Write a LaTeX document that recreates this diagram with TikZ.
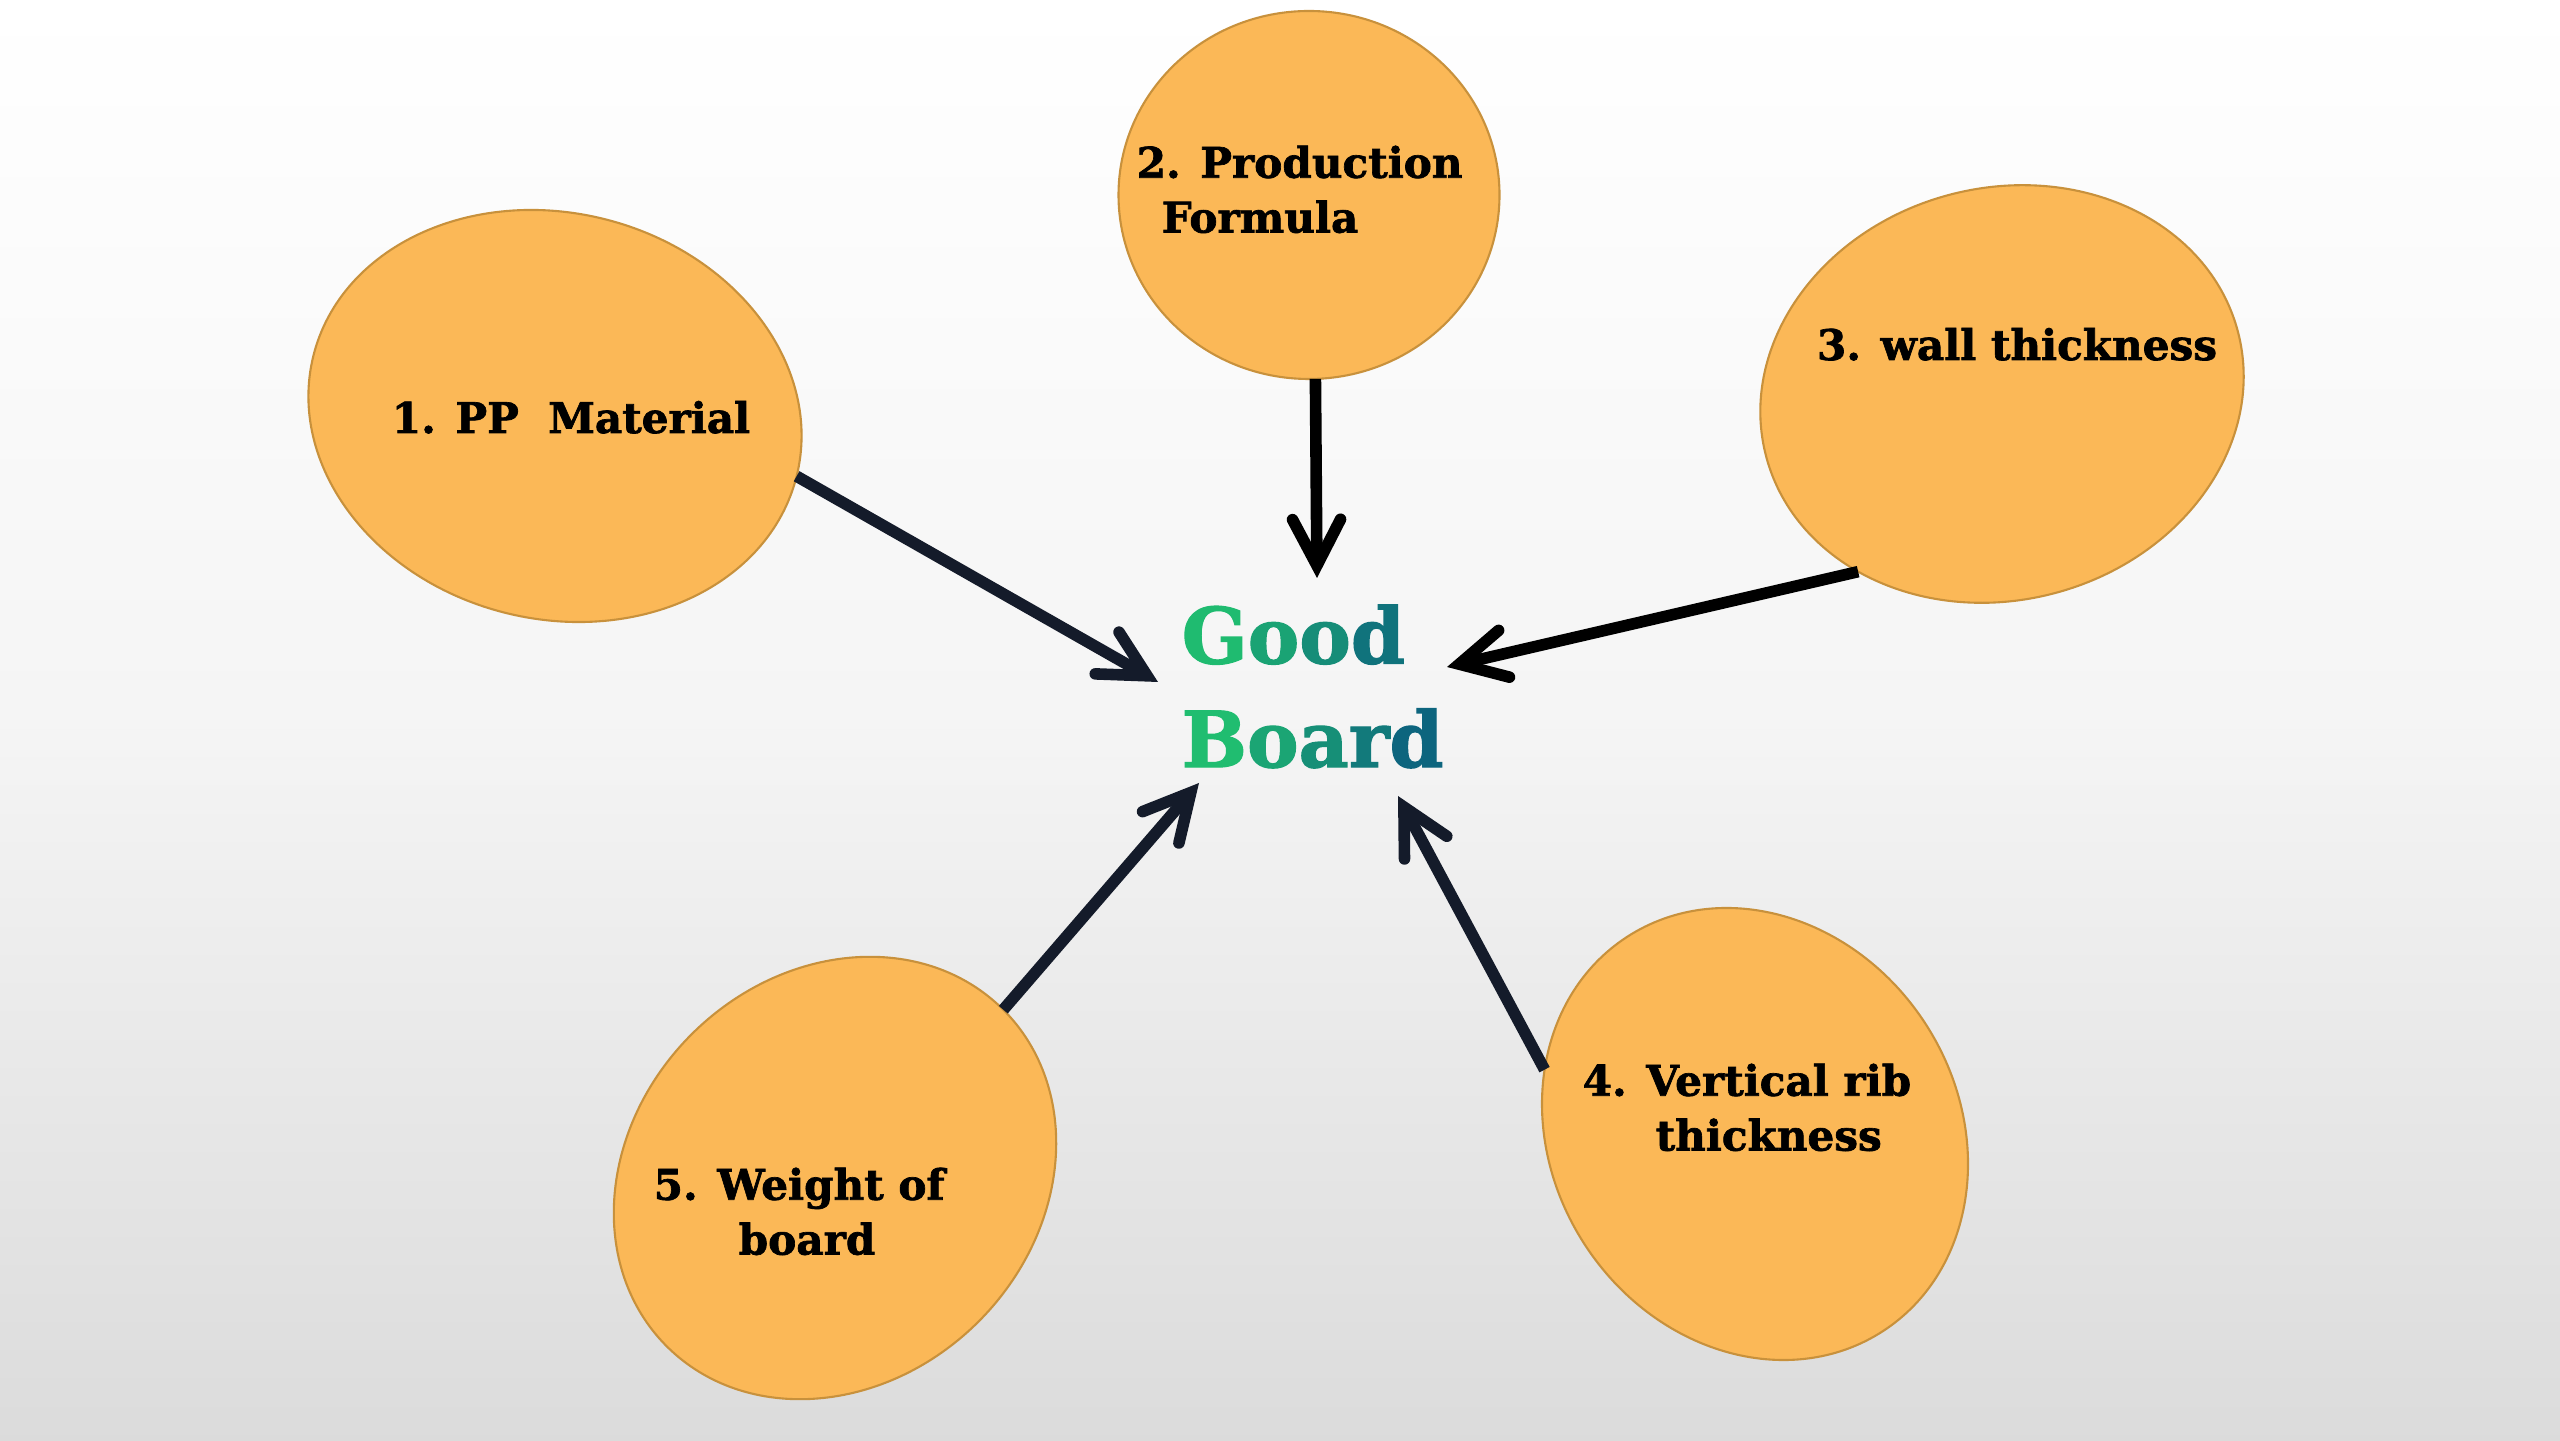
\documentclass[tikz,border=0pt]{standalone}
\usepackage{fontspec}
\setmainfont{DejaVu Serif}[BoldFeatures={FakeBold=1.6}]
\usetikzlibrary{shapes.geometric,arrows.meta}
\definecolor{bubble}{HTML}{FBB857}
\definecolor{bubbleline}{HTML}{C8913C}
\definecolor{navy}{HTML}{141B2A}
\definecolor{gl}{HTML}{22C86E}
\definecolor{gr}{HTML}{0B5A80}

\begin{document}
\begin{tikzpicture}[
    bubble/.style={ellipse, draw=bubbleline, line width=0.6pt, fill=bubble, inner sep=0pt, outer sep=0pt},
    lbl/.style={font=\fontsize{12}{15.6}\selectfont\bfseries, inner sep=0pt, align=left},
    arr/.style={line width=3.3pt, -{Straight Barb[length=4.6mm, width=4.8mm, line cap=round]}}
  ]
  \useasboundingbox (0,0) rectangle (25.6,14.4);
  \shade[top color=white, bottom color=black!14, middle color=black!4] (0,0) rectangle (25.6,14.4);

  % the five factors
  \node[bubble, minimum width=4.98cm, minimum height=4.06cm, rotate=-14] (e1) at (5.55,10.24) {};
  \node[bubble, minimum width=3.81cm, minimum height=3.68cm] (e2) at (13.09,12.45) {};
  \node[bubble, minimum width=4.88cm, minimum height=4.12cm, rotate=15] (e3) at (20.02,10.46) {};
  \node[bubble, minimum width=4.06cm, minimum height=4.70cm, rotate=33] (e4) at (17.55,3.06) {};
  \node[bubble, minimum width=4.06cm, minimum height=4.76cm, rotate=-45] (e5) at (8.35,2.62) {};

  \node[lbl, anchor=base] (t1) at (5.71,10.07) {1. PP~~Material};
  \node[lbl, anchor=north west] (t2) at (11.36,12.95) {2. Production\\\hspace*{0.25cm}Formula};
  \node[lbl, anchor=base] (t3) at (20.17,10.80) {3. wall thickness};
  \node[lbl, anchor=north west] (t4) at (15.82,3.77) {4. Vertical rib\\\hspace*{0.73cm}thickness};
  \node[lbl, anchor=north west] (t5) at (6.53,2.73) {5. Weight of\\\hspace*{0.85cm}board};

  % centre
  \node[font=\fontsize{22}{29.5}\selectfont\bfseries, inner sep=0pt, align=left, anchor=north west] (gb) at (11.81,8.36)
    {\textcolor{gr!12!gl}{G}\textcolor{gr!34!gl}{o}\textcolor{gr!54!gl}{o}\textcolor{gr!77!gl}{d}\\
     \textcolor{gr!10!gl}{B}\textcolor{gr!32!gl}{o}\textcolor{gr!52!gl}{a}\textcolor{gr!71!gl}{r}\textcolor{gr!90!gl}{d}};

  \coordinate (tip1) at (11.58,7.58);
  \coordinate (tip2) at (13.17,8.62);
  \coordinate (tip3) at (14.47,7.73);
  \coordinate (tip4) at (13.98,6.44);
  \coordinate (tip5) at (11.99,6.57);

  \draw[arr, navy] (e1.0) -- (tip1);
  \draw[arr] (e2.-88) -- (tip2);
  \draw[arr] (e3.216) -- (tip3);
  \draw[arr, navy] (e4.130) -- (tip4);
  \draw[arr, navy] (e5.90) -- (tip5);
\end{tikzpicture}
\end{document}
